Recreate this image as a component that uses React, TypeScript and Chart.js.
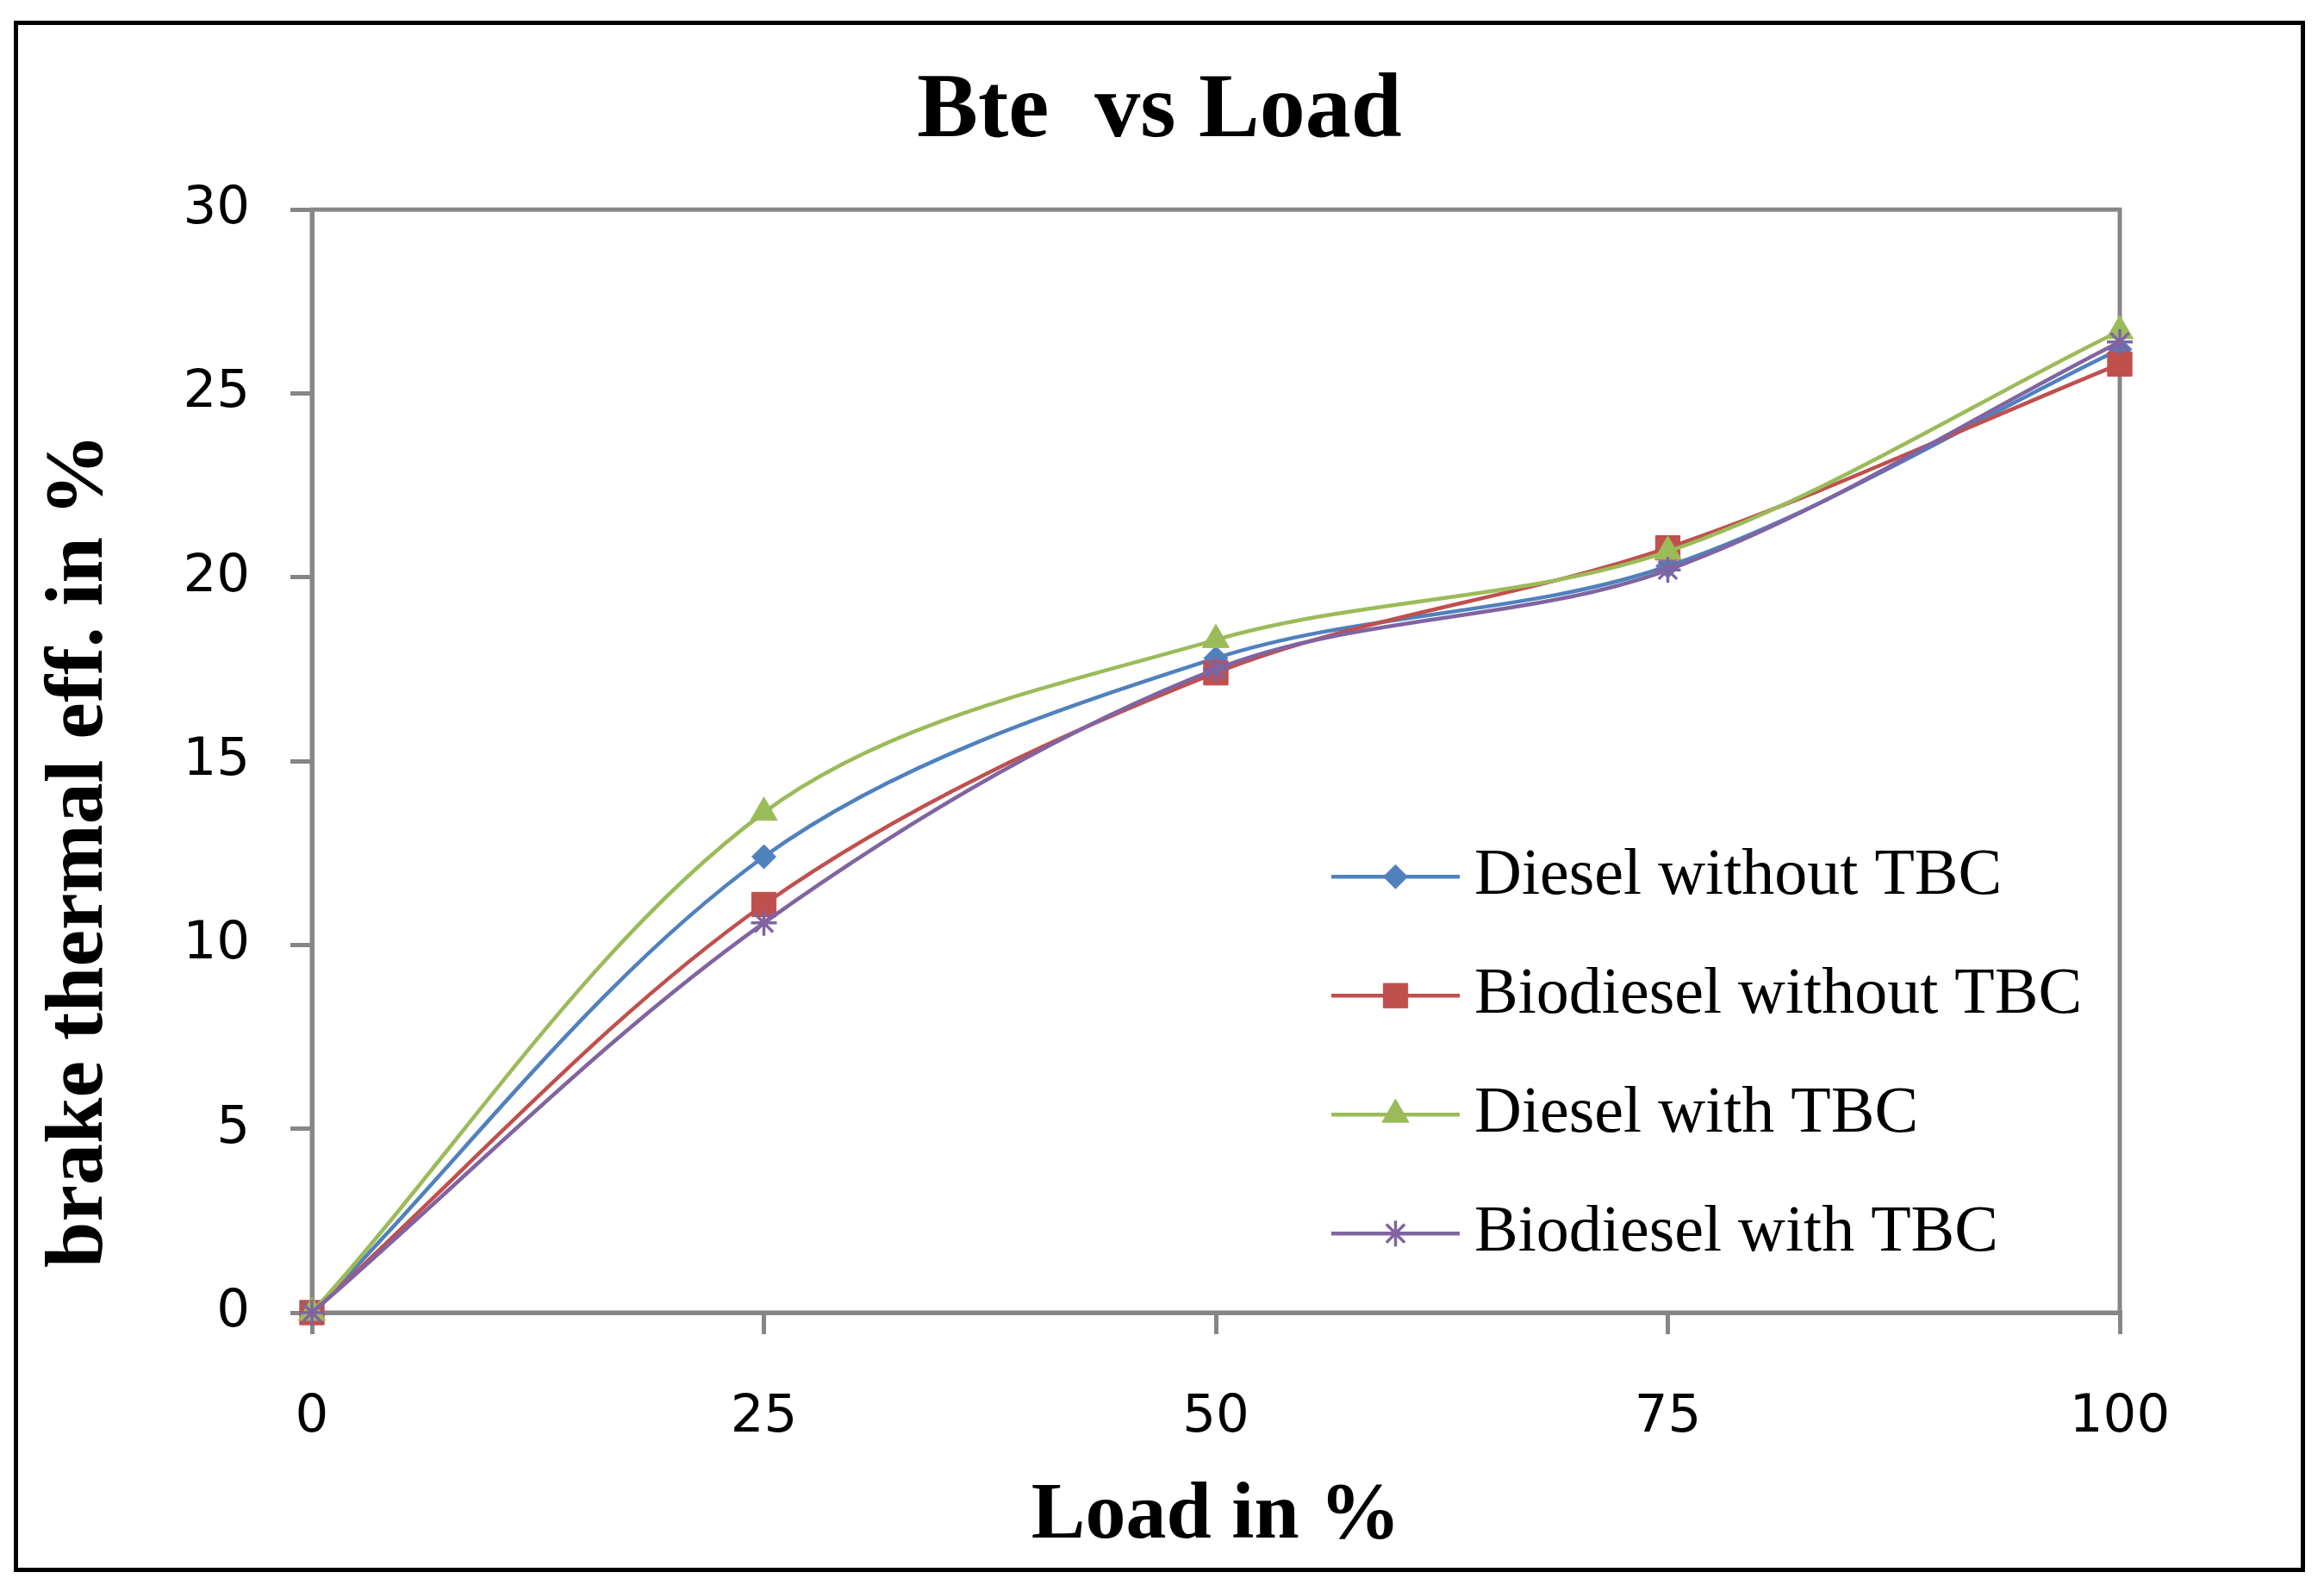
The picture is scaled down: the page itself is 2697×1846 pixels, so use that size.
import React, { useEffect, useRef } from 'react';
import { Chart, registerables } from 'chart.js';
import { drawPoint } from 'chart.js/helpers';

Chart.register(...registerables);

// ---- data ----
const loads = [0, 25, 50, 75, 100];
const dieselWithoutTBC = [0, 12.4, 17.8, 20.3, 26.2];
const biodieselWithoutTBC = [0, 11.1, 17.4, 20.8, 25.8];
const dieselWithTBC = [0, 13.6, 18.3, 20.7, 26.7];
const biodieselWithTBC = [0, 10.6, 17.5, 20.2, 26.4];
const seriesNames = ['Diesel without TBC', 'Biodiesel without TBC', 'Diesel with TBC', 'Biodiesel with TBC'];
const chartTitle = 'Bte  vs Load';
const xTitle = 'Load in %';
const yTitle = 'brake thermal eff. in %';

const AXIS_GRAY = '#868686';

const toPoints = (vals: number[]) => loads.map((x, i) => ({ x, y: vals[i] }));

const plotFrame = {
  id: 'plotFrame',
  beforeDatasetsDraw(chart: any) {
    const { ctx, chartArea } = chart;
    ctx.save();
    ctx.strokeStyle = AXIS_GRAY;
    ctx.lineWidth = 5;
    ctx.strokeRect(chartArea.left, chartArea.top, chartArea.right - chartArea.left, chartArea.bottom - chartArea.top);
    ctx.restore();
  },
};

const insideLegend = {
  id: 'insideLegend',
  afterDatasetsDraw(chart: any) {
    const { ctx, chartArea } = chart;
    const x0 = chartArea.left + 1183;
    const x1 = chartArea.left + 1332;
    const xm = (x0 + x1) / 2;
    const xt = chartArea.left + 1349;
    chart.data.datasets.forEach((ds: any, i: number) => {
      const y = chartArea.top + 774 + i * 138;
      ctx.save();
      ctx.strokeStyle = ds.borderColor;
      ctx.lineWidth = ds.borderWidth;
      ctx.beginPath();
      ctx.moveTo(x0, y);
      ctx.lineTo(x1, y);
      ctx.stroke();
      ctx.fillStyle = ds.pointBackgroundColor;
      ctx.strokeStyle = ds.pointBorderColor;
      ctx.lineWidth = ds.pointBorderWidth;
      drawPoint(ctx, { pointStyle: ds.pointStyle, radius: ds.pointRadius, rotation: 0, borderWidth: ds.pointBorderWidth } as any, xm, y);
      ctx.fillStyle = '#000';
      ctx.font = '76px "Liberation Serif"';
      ctx.textBaseline = 'middle';
      ctx.textAlign = 'left';
      ctx.fillText(ds.label, xt, y);
      ctx.restore();
    });
  },
};

const yAxisTitle = {
  id: 'yAxisTitle',
  afterDraw(chart: any) {
    const { ctx } = chart;
    ctx.save();
    ctx.translate(97, 958);
    ctx.rotate(-Math.PI / 2);
    ctx.fillStyle = '#000';
    ctx.font = 'bold 96px "Liberation Serif"';
    ctx.textAlign = 'center';
    ctx.textBaseline = 'alphabetic';
    ctx.fillText(yTitle, 0, 0);
    ctx.restore();
  },
};

export default function App() {
  const ref = useRef<HTMLCanvasElement | null>(null);

  useEffect(() => {
    if (!ref.current) return;
    const mk = (label: string, vals: number[], color: string, style: string, radius: number, bw: number, order: number) => ({
      label,
      data: toPoints(vals),
      borderColor: color,
      backgroundColor: color,
      pointBackgroundColor: color,
      pointBorderColor: color,
      pointStyle: style,
      pointRadius: radius,
      pointBorderWidth: bw,
      borderWidth: 4.5,
      tension: 0.33,
      fill: false,
      clip: false as any,
      order,
    });
    const chart = new Chart(ref.current, {
      type: 'line',
      data: {
        datasets: [
          mk(seriesNames[0], dieselWithoutTBC, '#4F81BD', 'rectRot', 14, 1, 3),
          mk(seriesNames[1], biodieselWithoutTBC, '#C0504D', 'rect', 20, 1, 2),
          mk(seriesNames[2], dieselWithTBC, '#9BBB59', 'triangle', 18, 1, 1),
          mk(seriesNames[3], biodieselWithTBC, '#8064A2', 'star', 15, 3.5, 0),
        ] as any,
      },
      options: {
        animation: false,
        responsive: false,
        devicePixelRatio: 1,
        layout: { padding: { left: 0, top: 0, right: 0, bottom: 0 } },
        plugins: {
          legend: { display: false },
          tooltip: { enabled: false },
          title: {
            display: true,
            text: chartTitle,
            color: '#000',
            font: { family: '"Liberation Serif"', size: 106, weight: 'bold', lineHeight: 1.2 },
            padding: { top: 38, bottom: 49 },
          },
        },
        scales: {
          x: {
            type: 'linear',
            min: 0,
            max: 100,
            afterFit: (s: any) => { s.height = 296; },
            ticks: {
              stepSize: 25,
              color: '#000',
              padding: 61,
              font: { family: '"DejaVu Sans"', size: 61, lineHeight: 1.2 },
            },
            grid: { drawOnChartArea: false, drawTicks: true, tickLength: 25, color: AXIS_GRAY, lineWidth: 5 },
            border: { display: true, color: AXIS_GRAY, width: 5 },
            title: {
              display: true,
              text: xTitle,
              color: '#000',
              font: { family: '"Liberation Serif"', size: 94, weight: 'bold', lineHeight: 1.2 },
              padding: { top: 0, bottom: 3 },
            },
          },
          y: {
            type: 'linear',
            min: 0,
            max: 30,
            afterFit: (s: any) => { s.width = 341; },
            ticks: {
              stepSize: 5,
              color: '#000',
              padding: 47,
              font: { family: '"DejaVu Sans"', size: 61, lineHeight: 1.2 },
            },
            grid: { drawOnChartArea: false, drawTicks: true, tickLength: 25, color: AXIS_GRAY, lineWidth: 5 },
            border: { display: true, color: AXIS_GRAY, width: 5 },
          },
          yRightSpace: {
            type: 'linear',
            position: 'right',
            min: 0,
            max: 30,
            afterFit: (s: any) => { s.width = 210; },
            ticks: { display: false },
            grid: { display: false, drawTicks: false },
            border: { display: false },
          },
        },
      } as any,
      plugins: [plotFrame, insideLegend, yAxisTitle],
    });
    return () => chart.destroy();
  }, []);

  return (
    <div
      style={{
        position: 'absolute',
        left: 16,
        top: 24,
        width: 2659,
        height: 1800,
        border: '5px solid #000',
        boxSizing: 'border-box',
        background: '#fff',
      }}
    >
      <canvas ref={ref} width={2649} height={1790} style={{ display: 'block', width: 2649, height: 1790 }} />
    </div>
  );
}
